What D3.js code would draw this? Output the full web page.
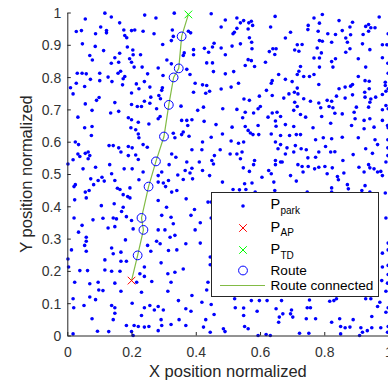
<!DOCTYPE html>
<html>
<head>
<meta charset="utf-8">
<script src="https://cdn.jsdelivr.net/npm/d3@7"></script>
<style>
  body { margin: 0; background: #fff; }
  text { font-family: "Liberation Sans", Arial, sans-serif; }
</style>
</head>
<body>
<div id="chart"></div>
<script>
// parking spots (x, y normalized)
const parkPoints = [
  [.056,.980],[.117,.998],[.137,.986],[.163,.968],[.241,.992],[.276,.983],[.333,.998],
  [.028,.941],[.044,.944],[.088,.934],[.104,.955],[.122,.944],[.122,.937],[.176,.946],[.200,.944],[.210,.946],[.236,.942],[.270,.934],[.327,.946],[.330,.926],
  [.179,.929],[.185,.922],[.047,.903],[.087,.895],[.113,.882],[.187,.893],[.204,.884],[.297,.901],[.324,.913],
  [.070,.867],[.078,.853],[.148,.860],[.163,.874],[.205,.869],[.194,.857],[.200,.846],[.228,.869],[.137,.843],[.160,.846],[.310,.853],[.324,.841],
  [.208,.831],[.233,.831],[.283,.828],[.031,.812],[.046,.812],[.059,.810],[.101,.812],[.127,.800],[.158,.812],[.166,.818],[.174,.795],[.179,.802],[.250,.810],[.298,.805],
  [.072,.793],[.101,.789],[.139,.786],[.240,.786],[.215,.779],[.028,.781],[.054,.771],[.172,.776],[.257,.769],[.296,.767],[.294,.759],
  [.010,.767],[.018,.748],[.200,.751],[.223,.764],[.260,.738],[.285,.743],[.290,.733],
  [.091,.728],[.099,.737],[.148,.721],[.240,.725],[.200,.715],[.218,.709],[.231,.709],[.257,.719],[.278,.702],
  [.056,.717],[.077,.697],[.135,.689],[.160,.694],
  [.448,.996],[.492,.977],[.528,.983],[.549,.975],[.539,.968],[.565,.968],[.573,.973],[.577,.960],[.647,.988],
  [.377,.942],[.479,.955],[.528,.951],[.520,.939],[.516,.934],[.563,.949],[.633,.955],
  [.384,.937],[.567,.922],[.574,.908],[.539,.903],[.513,.896],[.452,.893],[.457,.905],[.479,.890],[.440,.877],[.427,.889],[.679,.921],
  [.364,.875],[.361,.867],[.393,.885],[.393,.869],[.492,.869],[.575,.888],[.629,.879],[.640,.888],[.650,.888],[.646,.870],
  [.563,.854],[.573,.851],[.434,.844],[.452,.844],[.617,.846],
  [.372,.824],[.382,.808],[.455,.817],[.492,.810],[.518,.817],[.554,.836],[.583,.833],
  [.658,.808],[.679,.793],[.638,.789],[.635,.781],[.398,.781],[.421,.776],[.434,.774],[.533,.781],[.510,.769],[.479,.763],
  [.393,.753],[.431,.750],[.443,.756],[.620,.759],[.638,.743],[.550,.732],[.567,.728],[.598,.741],[.674,.735],
  [.354,.710],[.406,.697],[.424,.707],[.484,.702],[.528,.700],[.554,.691],[.580,.689],[.594,.702],[.638,.689],[.653,.691],[.601,.709],
  [.794,.994],[.768,.983],[.846,.975],[.888,.970],[.971,.986],[.750,.960],[.749,.947],[.781,.942],[.785,.967],[.695,.939],[.811,.934],[.835,.932],[.856,.944],[.880,.955],[.882,.931],[.929,.957],[.938,.963],[.945,.953],[.958,.953],[.938,.942],[.921,.932],[.999,.934],
  [.716,.900],[.708,.884],[.721,.880],[.731,.901],[.785,.913],[.794,.911],[.823,.908],[.867,.921],[.872,.908],[.778,.890],[.791,.875],[.867,.877],[.880,.888],[.919,.903],[.942,.885],[.981,.900],[.995,.900],
  [.768,.859],[.785,.859],[.823,.848],[.835,.857],[.827,.831],[.906,.857],[.981,.860],[.998,.843],[.726,.833],[.721,.818],[.716,.808],[.700,.786],[.736,.802],[.754,.802],[.768,.808],[.785,.831],[.783,.777],[.906,.802],[.929,.831],[.927,.789],[.940,.787],[.990,.784],[.999,.812],
  [.716,.766],[.707,.753],[.690,.748],[.718,.748],[.736,.733],[.757,.725],[.809,.728],[.823,.725],[.846,.764],[.865,.769],[.882,.772],[.888,.777],[.838,.741],[.865,.735],[.888,.745],[.926,.753],[.940,.764],[.927,.738],[.945,.732],[.960,.738],[.990,.774],[.992,.756],[.999,.764],[.981,.746],
  [.708,.722],[.716,.709],[.705,.697],[.726,.684],[.783,.720],[.789,.705],[.815,.709],[.827,.705],[.833,.688],[.856,.686],[.900,.707],[.893,.691],[.938,.707],[.942,.722],[.981,.699],[.992,.712],[.999,.702],
  [.033,.676],[.190,.674],[.200,.668],[.221,.660],[.254,.655],[.283,.671],[.289,.678],
  [.054,.643],[.077,.647],[.075,.619],[.198,.643],[.213,.637],[.221,.624],[.223,.612],[.025,.599],[.035,.591],[.033,.562],[.039,.554],[.056,.564],[.065,.568],[.070,.557],[.065,.547],[.130,.588],[.143,.588],[.160,.581],[.167,.568],[.190,.585],[.202,.581],[.190,.557],[.213,.559],[.236,.591],[.249,.583],[.221,.545],[.325,.562],[.338,.552],[.317,.529],[.294,.506],[.283,.495],
  [.002,.531],[.018,.544],[.049,.516],[.088,.521],[.132,.529],[.177,.516],[.202,.516],[.236,.506],[.138,.501],[.148,.480],[.108,.490],[.073,.485],[.082,.467],[.096,.480],[.115,.478],[.025,.467],[.021,.461],[.056,.444],[.068,.449],[.156,.456],[.164,.452],[.195,.457],[.223,.482],[.283,.475],[.299,.472],[.306,.461],[.315,.480],[.325,.444],[.341,.449],
  [.023,.420],[.059,.426],[.106,.402],[.146,.408],[.174,.436],[.188,.430],[.195,.426],[.169,.384],[.174,.397],[.283,.418],[.309,.397],[.294,.372],[.323,.366],[.021,.364],[.080,.358],[.111,.363],[.143,.364],[.153,.361],[.184,.368],[.200,.356],[.046,.341],
  [.664,.678],[.625,.676],[.546,.674],[.356,.666],[.372,.666],[.388,.668],[.375,.650],[.426,.663],[.330,.626],[.335,.612],[.361,.630],[.356,.622],[.379,.617],[.463,.653],[.513,.645],[.554,.647],[.563,.635],[.570,.627],[.594,.650],[.596,.622],[.578,.622],[.648,.664],[.650,.648],[.679,.653],[.635,.624],[.664,.619],
  [.448,.614],[.483,.624],[.421,.599],[.419,.575],[.388,.575],[.476,.575],[.458,.557],[.450,.542],[.455,.531],[.510,.602],[.533,.595],[.549,.599],[.544,.568],[.507,.562],[.528,.562],[.539,.547],[.583,.542],[.580,.529],[.548,.519],[.567,.508],[.648,.599],[.664,.591],[.656,.578],[.679,.562],[.648,.542],[.664,.537],[.648,.529],[.627,.511],
  [.372,.537],[.388,.518],[.367,.511],[.382,.503],[.411,.537],[.421,.511],[.344,.497],[.361,.483],[.390,.485],[.443,.495],[.483,.475],[.606,.490],[.635,.501],[.643,.475],[.552,.470],[.575,.472],[.516,.452],[.536,.451],[.556,.452],[.585,.444],[.646,.449],
  [.370,.423],[.396,.390],[.385,.372],[.414,.349],[.438,.413],[.448,.413],[.448,.364],[.330,.346],
  [.742,.676],[.792,.678],[.896,.671],[.942,.671],[.924,.666],[.981,.666],[.997,.650],
  [.705,.647],[.765,.643],[.692,.619],[.713,.622],[.726,.622],[.820,.657],[.856,.614],[.885,.650],[.906,.612],[.924,.640],[.955,.645],[.958,.606],[.966,.591],[.999,.643],[.998,.606],
  [.773,.606],[.797,.612],[.823,.609],[.804,.585],[.783,.568],[.773,.552],[.820,.568],[.833,.569],[.858,.542],[.890,.560],[.929,.578],[.938,.529],[.950,.564],[.998,.581],[.998,.557],[.992,.537],
  [.684,.581],[.710,.588],[.705,.568],[.728,.578],[.744,.575],[.749,.550],[.718,.529],[.731,.523],[.734,.506],[.750,.523],[.770,.516],[.783,.521],[.802,.523],[.825,.519],[.809,.501],[.841,.492],[.844,.482],[.861,.503],[.908,.521],[.924,.506],[.942,.519],[.955,.516],[.966,.506],[.976,.508],[.981,.495],[.669,.537],[.695,.495],[.713,.478],
  [.747,.444],[.823,.457],[.823,.444],[.872,.467],[.875,.454],[.917,.449],[.927,.464],[.942,.444],[.990,.441],[.992,.364],
  [.148,.337],[.035,.320],[.127,.333],[.205,.330],[.283,.327],[.304,.327],[.320,.304],[.335,.310],
  [.059,.304],[.059,.292],[.054,.279],[.059,.261],[.181,.296],[.138,.271],[.250,.279],[.278,.292],[.289,.284],[.013,.265],[.315,.263],[.002,.237],[.004,.212],[.117,.234],[.143,.253],[.167,.258],[.167,.230],[.184,.230],[.260,.261],[.292,.225],[.240,.212],
  [.039,.201],[.063,.201],[.117,.203],[.138,.199],[.164,.199],[.226,.191],[.240,.183],[.313,.191],[.335,.196],[.023,.165],[.070,.160],[.096,.165],[.148,.162],[.263,.167],[.216,.165],[.098,.141],[.111,.139],[.167,.137],[.231,.134],[.323,.165],[.313,.137],[.018,.114],[.070,.119],[.088,.111],[.020,.086],[.052,.093],[.138,.093],[.148,.086],[.148,.069],[.202,.100],[.240,.086],[.257,.093],[.283,.090],[.299,.079],[.231,.062],[.271,.079],
  [.077,.052],[.143,.049],[.129,.012],[.094,.013],[.184,.031],[.200,.012],[.208,.031],[.221,.028],[.240,.026],[.254,.028],[.292,.049],[.283,.015],[.294,.031],[.323,.034],[.018,.005],[.205,.000],
  [.398,.327],[.369,.284],[.414,.286],[.341,.265],[.361,.206],[.445,.243],[.445,.219],[.438,.165],[.434,.141],[.388,.124],[.346,.108],[.369,.083],[.385,.075],[.419,.103],[.448,.096],
  [.521,.114],[.573,.108],[.598,.108],[.622,.108],[.667,.108],[.523,.086],[.549,.085],[.591,.075],[.650,.083],[.671,.067],[.660,.057],[.348,.049],[.369,.031],[.431,.049],[.457,.065],[.486,.021],[.549,.062],[.552,.028],[.563,.021],[.594,.000],[.632,.000],[.658,.041],[.424,.026],
  [.999,.286],[.981,.255],[.999,.265],[.981,.212],[.999,.217],[.999,.189],[.979,.170],[.997,.162],[.992,.137],
  [.698,.079],[.695,.067],[.702,.057],[.747,.086],[.757,.086],[.744,.052],[.773,.052],[.754,.110],[.817,.106],[.830,.108],[.838,.114],[.929,.114],[.945,.114],[.973,.103],[.966,.090],[.948,.059],[.992,.072],[.999,.086],[.823,.041],[.848,.052],[.851,.028],[.865,.024],[.880,.026],[.914,.024],[.890,.049],[.919,.010],[.934,.015],[.948,.024],[.976,.024],[.999,.028],[.723,.007],[.752,.007],[.910,.000],
  [.445,.010],[.491,.012],[.619,.003],[.851,.005],[.997,.010]
];

// route waypoints (circles), bottom to top
const routeX = [.219, .237, .231, .253, .276, .301, .316, .331, .347, .356];
const routeY = [.248, .327, .364, .461, .539, .616, .714, .799, .827, .926];
const apPoint = [.200, .170];
const tdPoint = [.377, .994];

const xTicks = [0, 0.2, 0.4, 0.6, 0.8, 1];
const yTicks = [0, 0.1, 0.2, 0.3, 0.4, 0.5, 0.6, 0.7, 0.8, 0.9, 1];

const width = 388, height = 386;
const axisColor = '#262626';
const routeColor = '#82bb45';

const svg = d3.select('#chart').append('svg')
  .attr('width', width).attr('height', height)
  .style('display', 'block');

const x = d3.scaleLinear().domain([0, 1]).range([67.3, 388.5]);
const y = d3.scaleLinear().domain([0, 1]).range([335.5, 12.5]);

// parking dots
svg.append('g')
  .selectAll('circle')
  .data(parkPoints)
  .enter()
  .append('circle')
  .attr('cx', d => x(d[0]))
  .attr('cy', d => y(d[1]))
  .attr('r', 1.8)
  .attr('fill', '#0000ff');

// route line: AP -> waypoints -> TD
const routeLine = [apPoint].concat(routeX.map((v, i) => [v, routeY[i]]), [tdPoint]);
svg.append('path')
  .datum(routeLine)
  .attr('fill', 'none')
  .attr('stroke', routeColor)
  .attr('stroke-width', 1.2)
  .attr('d', d3.line().x(d => x(d[0])).y(d => y(d[1])));

svg.append('g')
  .selectAll('circle')
  .data(routeX.map((v, i) => [v, routeY[i]]))
  .enter()
  .append('circle')
  .attr('cx', d => x(d[0]))
  .attr('cy', d => y(d[1]))
  .attr('r', 4.4)
  .attr('fill', 'none')
  .attr('stroke', '#0000ff')
  .attr('stroke-width', 1);

function cross(g, cx, cy, color) {
  const s = 3.8;
  g.append('path')
    .attr('d', `M${cx - s},${cy - s}L${cx + s},${cy + s}M${cx - s},${cy + s}L${cx + s},${cy - s}`)
    .attr('stroke', color)
    .attr('stroke-width', 1)
    .attr('fill', 'none');
}
cross(svg, x(apPoint[0]), y(apPoint[1]), '#ff0000');
cross(svg, x(tdPoint[0]), y(tdPoint[1]), '#00ff00');

// axes
const xAxis = svg.append('g')
  .attr('transform', `translate(0,${y(0)})`)
  .call(d3.axisBottom(x).tickValues(xTicks).tickFormat(d => String(d)).tickSizeInner(-3.5).tickSizeOuter(0));
const yAxis = svg.append('g')
  .attr('transform', `translate(${x(0)},0)`)
  .call(d3.axisLeft(y).tickValues(yTicks).tickFormat(d => String(d)).tickSizeInner(-3.5).tickSizeOuter(0));

[xAxis, yAxis].forEach(a => {
  a.select('.domain').attr('stroke', axisColor).attr('stroke-width', 1);
  a.selectAll('.tick line').attr('stroke', axisColor);
  a.selectAll('.tick text')
    .attr('fill', '#333')
    .style('font-size', '14px')
    .style('font-family', '"Liberation Sans", Arial, sans-serif');
});
xAxis.selectAll('.tick text').attr('y', 21).attr('dy', null);
yAxis.selectAll('.tick text').attr('x', -6).attr('dy', '0.35em');

svg.append('text')
  .attr('x', (x(0) + x(1)) / 2)
  .attr('y', 376.5)
  .attr('text-anchor', 'middle')
  .attr('fill', '#262626')
  .style('font-size', '16.5px')
  .text('X position normalized');

svg.append('text')
  .attr('transform', `translate(31.5,${(y(0) + y(1)) / 2}) rotate(-90)`)
  .attr('text-anchor', 'middle')
  .attr('fill', '#262626')
  .style('font-size', '16.5px')
  .text('Y position normalized');

// legend
const lg = svg.append('g');
lg.append('rect')
  .attr('x', 211.5).attr('y', 192.5)
  .attr('width', 167).attr('height', 104)
  .attr('fill', '#fff')
  .attr('stroke', axisColor)
  .attr('stroke-width', 1);

const iconX = 243, textX = 270.5;
lg.append('circle').attr('cx', iconX).attr('cy', 206).attr('r', 1.8).attr('fill', '#0000ff');
cross(lg, iconX, 228, '#ff0000');
cross(lg, iconX, 250, '#00ff00');
lg.append('circle').attr('cx', iconX).attr('cy', 270.5).attr('r', 4.4)
  .attr('fill', 'none').attr('stroke', '#0000ff');
lg.append('line').attr('x1', 220).attr('x2', 265).attr('y1', 285.5).attr('y2', 285.5)
  .attr('stroke', routeColor).attr('stroke-width', 1.2);

const legendRows = [
  { main: 'P', sub: 'park', base: 209 },
  { main: 'P', sub: 'AP', base: 231.7 },
  { main: 'P', sub: 'TD', base: 254.3 },
  { main: 'Route', sub: null, base: 275 },
  { main: 'Route connected', sub: null, base: 290.3 }
];
legendRows.forEach(r => {
  lg.append('text').attr('x', textX).attr('y', r.base)
    .attr('fill', '#000').style('font-size', r.sub ? '14.5px' : '13.6px').text(r.main);
  if (r.sub) {
    lg.append('text').attr('x', textX + 10).attr('y', r.base + 4.6)
      .attr('fill', '#000').style('font-size', '10px').text(r.sub);
  }
});
</script>
</body>
</html>
